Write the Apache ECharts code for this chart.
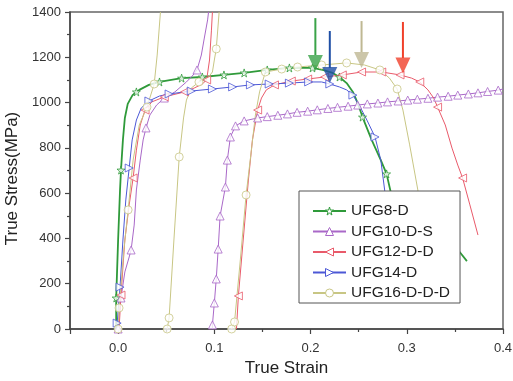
<!DOCTYPE html>
<html><head><meta charset="utf-8">
<script src="https://cdn.jsdelivr.net/npm/echarts@6/dist/echarts.min.js"></script>
<style>html,body{margin:0;padding:0;background:#fff}#c{width:513px;height:381px}</style>
</head><body><div id="c"></div>
<script>
// ---------- data (strain, true stress MPa) ----------
const seriesNames = ['UFG8-D', 'UFG10-D-S', 'UFG12-D-D', 'UFG14-D', 'UFG16-D-D-D'];
const xTickLabels = ['0.0', '0.1', '0.2', '0.3', '0.4'];
const yTickLabels = ['0', '200', '400', '600', '800', '1000', '1200', '1400'];

const ufg8Path = [[-0.002,0],[-0.002,137],[0.000,393],[0.002,614],[0.003,702],[0.005,835],[0.007,932],[0.010,994],[0.015,1033],[0.019,1047],[0.022,1056],[0.032,1078],[0.043,1091],[0.066,1108],[0.0875,1113],[0.110,1122],[0.131,1131],[0.155,1144],[0.178,1153],[0.202,1153],[0.2125,1144],[0.223,1131],[0.230,1113],[0.2375,1086],[0.244,1047],[0.249,998],[0.254,936],[0.2635,835],[0.273,746],[0.279,685],[0.284,592],[0.291,393],[0.355,340],[0.3625,300]];
const ufg8Marks = [[-0.002,137],[0.003,702],[0.019,1047],[0.043,1091],[0.066,1108],[0.0875,1113],[0.110,1122],[0.131,1131],[0.155,1144],[0.178,1153],[0.202,1153],[0.230,1113],[0.254,936],[0.279,685]];

const ufg10Path1 = [[0,0],[0.001,62],[0.003,137],[0.007,252],[0.0115,318],[0.0135,349],[0.0167,459],[0.019,614],[0.023,746],[0.026,835],[0.029,888],[0.033,945],[0.040,989],[0.048,1020],[0.059,1047],[0.071,1091],[0.077,1117],[0.082,1144],[0.0865,1210],[0.0896,1285],[0.093,1365],[0.094,1400]];
const ufg10Path2 = [[0.098,0],[0.098,18],[0.100,115],[0.102,221],[0.104,353],[0.106,499],[0.1115,627],[0.1135,746],[0.1167,848],[0.122,897],[0.131,919],[0.145,932],[0.155,938],[0.166,944],[0.176,950],[0.186,957],[0.197,962],[0.207,968],[0.218,974],[0.228,979],[0.239,984],[0.249,989],[0.259,994],[0.270,998],[0.280,1003],[0.291,1007],[0.301,1011],[0.311,1015],[0.322,1019],[0.332,1024],[0.343,1028],[0.353,1033],[0.364,1038],[0.374,1043],[0.384,1049],[0.395,1055],[0.400,1060]];
const ufg10Marks = [[0,0],[0.003,137],[0.0135,349],[0.029,888],[0.048,1020],[0.082,1144],[0.098,18],[0.100,115],[0.102,221],[0.104,353],[0.106,499],[0.1115,627],[0.1135,746],[0.1167,848],[0.122,897],[0.131,919],[0.145,932],[0.155,938],[0.166,944],[0.176,950],[0.186,957],[0.197,962],[0.207,968],[0.218,974],[0.228,979],[0.239,984],[0.249,989],[0.259,994],[0.270,998],[0.280,1003],[0.291,1007],[0.301,1011],[0.311,1015],[0.322,1019],[0.332,1024],[0.343,1028],[0.353,1033],[0.364,1038],[0.374,1043],[0.384,1049],[0.395,1055]];

const ufg12Path1 = [[0.001,0],[0.003,150],[0.007,393],[0.0115,548],[0.0156,667],[0.019,790],[0.023,901],[0.028,967],[0.035,1003],[0.048,1025],[0.069,1047],[0.079,1064],[0.0875,1082],[0.092,1100],[0.095,1188],[0.097,1320],[0.098,1400]];
const ufg12Path2 = [[0.123,0],[0.125,146],[0.130,393],[0.1354,658],[0.1396,835],[0.145,967],[0.149,1020],[0.154,1056],[0.1625,1078],[0.180,1095],[0.197,1104],[0.2146,1113],[0.233,1122],[0.253,1135],[0.274,1135],[0.293,1122],[0.305,1108],[0.3135,1091],[0.322,1056],[0.328,1020],[0.332,980],[0.340,901],[0.347,799],[0.353,724],[0.358,667],[0.3656,548],[0.374,415]];
const ufg12Marks = [[0.003,150],[0.0156,667],[0.028,967],[0.048,1025],[0.069,1047],[0.092,1100],[0.125,146],[0.145,967],[0.1625,1078],[0.180,1095],[0.197,1104],[0.2146,1113],[0.233,1122],[0.253,1135],[0.274,1135],[0.293,1122],[0.3135,1091],[0.332,980],[0.358,667]];

const ufg14Path = [[-0.001,0],[-0.001,26],[0.002,185],[0.005,393],[0.008,570],[0.0115,711],[0.0146,835],[0.019,923],[0.024,976],[0.032,1007],[0.043,1029],[0.053,1038],[0.076,1051],[0.098,1060],[0.119,1069],[0.1375,1078],[0.157,1082],[0.178,1086],[0.198,1091],[0.2115,1091],[0.220,1082],[0.230,1069],[0.2375,1056],[0.244,1033],[0.251,985],[0.259,919],[0.267,848],[0.273,746],[0.277,614],[0.282,437],[0.285,261]];
const ufg14Marks = [[-0.001,26],[0.002,185],[0.0115,711],[0.032,1007],[0.053,1038],[0.076,1051],[0.098,1060],[0.119,1069],[0.1375,1078],[0.157,1082],[0.178,1086],[0.198,1091],[0.220,1082],[0.244,1033],[0.267,848]];

const ufg16Path1 = [[0,0],[0.001,93],[0.006,349],[0.0104,526],[0.0156,746],[0.022,901],[0.030,980],[0.0375,1082],[0.0406,1210],[0.044,1400]];
const ufg16Path2 = [[0.051,0],[0.053,49],[0.058,393],[0.0635,760],[0.068,932],[0.071,1011],[0.076,1064],[0.084,1091],[0.093,1108],[0.098,1135],[0.100,1188],[0.102,1237],[0.105,1400]];
const ufg16Path3 = [[0.118,0],[0.121,31],[0.127,305],[0.133,592],[0.1385,790],[0.1427,945],[0.147,1047],[0.153,1135],[0.170,1148],[0.1865,1157],[0.2115,1166],[0.2375,1175],[0.256,1166],[0.272,1144],[0.282,1108],[0.290,1060],[0.296,967],[0.303,813],[0.3115,614],[0.319,393],[0.324,172]];
const ufg16Marks = [[0,0],[0.001,93],[0.0104,526],[0.030,980],[0.0375,1082],[0.051,0],[0.053,49],[0.0635,760],[0.084,1091],[0.102,1237],[0.118,0],[0.121,31],[0.133,592],[0.153,1135],[0.170,1148],[0.1865,1157],[0.2115,1166],[0.2375,1175],[0.272,1144],[0.290,1060]];

// arrows marking peak stress (strain, shaft top, head base, head centre)
const arrowStrain = [0.205, 0.220, 0.253, 0.296];
const arrowTop = [1373, 1316, 1360, 1356];
const arrowBase = [1210, 1153, 1223, 1197];
const arrowHead = [1175, 1122, 1188, 1164];

// ---------- styling ----------
const FONT = "'Liberation Sans', Arial, sans-serif";
const cGreen = '#2f9a3a', cPurple = '#a968c8', cRed = '#e95a6a', cBlue = '#4c58d6', cKhaki = '#c8c684';
const arrowColors = ['#3aa348', '#1f4fa5', '#bfb893', '#f0402a'];
const STAR = 'path://M50,0 L61,35 L98,35 L68,57 L79,91 L50,70 L21,91 L32,57 L2,35 L39,35 Z';

function curve(name, paths, marks, color, symbol, rotate, width) {
  const out = [];
  paths.forEach(p => out.push({
    type: 'line', name, data: p, showSymbol: false, symbol, symbolRotate: rotate, symbolSize: 9,
    lineStyle: { color, width }, itemStyle: { color: '#fff', borderColor: color, borderWidth: 1 },
    z: 2, silent: true, animation: false
  }));
  out.push({
    type: 'scatter', name, data: marks, symbol, symbolRotate: rotate, symbolSize: 8,
    itemStyle: { color: '#fff', borderColor: color, borderWidth: 1 }, z: 3, silent: true, animation: false
  });
  return out;
}

let series = [];
series = series.concat(curve(seriesNames[0], [ufg8Path], ufg8Marks, cGreen, STAR, 0, 1.8));
series = series.concat(curve(seriesNames[1], [ufg10Path1, ufg10Path2], ufg10Marks, cPurple, 'triangle', 0, 1));
series = series.concat(curve(seriesNames[2], [ufg12Path1, ufg12Path2], ufg12Marks, cRed, 'triangle', 90, 1));
series = series.concat(curve(seriesNames[3], [ufg14Path], ufg14Marks, cBlue, 'triangle', -90, 1));
series = series.concat(curve(seriesNames[4], [ufg16Path1, ufg16Path2, ufg16Path3], ufg16Marks, cKhaki, 'circle', 0, 1));

arrowStrain.forEach((s, i) => {
  series.push({
    type: 'line', name: 'arrow' + i, data: [[s, arrowTop[i]], [s, arrowBase[i]]], showSymbol: false,
    lineStyle: { color: arrowColors[i], width: 2 }, z: 5, silent: true, animation: false
  });
});
series.push({
  type: 'scatter', name: 'arrowheads', symbol: 'triangle', symbolRotate: 180, symbolSize: [15, 16],
  data: arrowStrain.map((s, i) => ({ value: [s, arrowHead[i]], itemStyle: { color: arrowColors[i] } })),
  z: 5, silent: true, animation: false
});

const tickColor = '#444';
const option = {
  animation: false,
  grid: { left: 70, right: 10, top: 12, bottom: 52, show: true, borderColor: '#666', borderWidth: 1.5, containLabel: false, outerBoundsMode: 'none' },
  legend: {
    data: seriesNames, orient: 'vertical', left: 299, top: 191, padding: [12, 10, 2, 13],
    itemWidth: 33, itemHeight: 10, itemGap: 4.5, backgroundColor: '#fff', borderColor: '#555', borderWidth: 1,
    borderRadius: 0, selectedMode: false, z: 10,
    itemStyle: { color: '#fff', borderColor: 'inherit', borderWidth: 1 },
    textStyle: { fontSize: 15.5, color: '#222', fontFamily: FONT, lineHeight: 15 }
  },
  xAxis: {
    type: 'value', min: -0.05, max: 0.4,
    name: 'True Strain', nameLocation: 'middle', nameGap: 31,
    nameTextStyle: { fontSize: 17, color: '#222', fontFamily: FONT },
    axisLine: { show: true, onZero: false, lineStyle: { color: tickColor, width: 1.5 } },
    axisTick: { show: true, inside: false, length: 5, lineStyle: { color: tickColor, width: 1.2 } },
    minorTick: { show: true, splitNumber: 2, length: 3, lineStyle: { color: tickColor, width: 1.2 } },
    axisLabel: {
      fontSize: 13, color: '#333', fontFamily: FONT, margin: 13,
      formatter: v => { const k = Math.round(v * 10); return (Math.abs(v * 10 - k) < 1e-6 && k >= 0) ? xTickLabels[k] : ''; }
    },
    splitLine: { show: false }, minorSplitLine: { show: false }
  },
  yAxis: {
    type: 'value', min: 0, max: 1400, interval: 200,
    name: 'True Stress(MPa)', nameLocation: 'middle', nameGap: 47, nameRotate: 90,
    nameTextStyle: { fontSize: 17, color: '#222', fontFamily: FONT, padding: [0, 16, 0, 0] },
    axisLine: { show: true, onZero: false, lineStyle: { color: tickColor, width: 1.5 } },
    axisTick: { show: true, inside: false, length: 5, lineStyle: { color: tickColor, width: 1.2 } },
    minorTick: { show: true, splitNumber: 2, length: 3, lineStyle: { color: tickColor, width: 1.2 } },
    axisLabel: { fontSize: 13, color: '#333', fontFamily: FONT, margin: 9, formatter: v => yTickLabels[Math.round(v / 200)] },
    splitLine: { show: false }, minorSplitLine: { show: false }
  },
  series
};
const chart = echarts.init(document.getElementById('c'), null, { renderer: 'canvas' });
chart.setOption(option);
</script></body></html>
